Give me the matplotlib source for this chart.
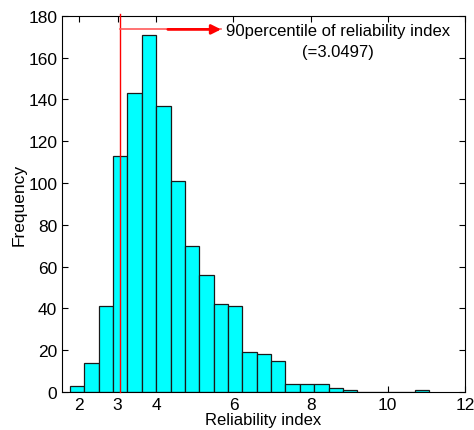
import numpy as np
import matplotlib
matplotlib.use('Agg')
from matplotlib import pyplot as plt

plt.rcParams['font.family'] = ['Liberation Sans', 'DejaVu Sans']

# histogram of the reliability index (25 bins between min and max)
bin_min = 1.766
bin_max = 11.07
n_bins = 25
counts = [3, 14, 41, 113, 143, 171, 137, 101, 70, 56, 42, 41, 19, 18, 15,
          4, 4, 4, 2, 1, 0, 0, 0, 0, 1]

p90 = 3.0497
arrow_y = 173.5
arrow_end = 5.68
note = '90percentile of reliability index\n(=3.0497)'

x_ticks = [2, 3, 4, 6, 8, 10, 12]
y_ticks = list(range(0, 181, 20))

edges = np.linspace(bin_min, bin_max, n_bins + 1)

fig = plt.figure(figsize=(4.74, 4.31), dpi=100)
ax = fig.add_axes([0.131, 0.088, 0.850, 0.873])

ax.bar(edges[:-1], counts, width=np.diff(edges), align='edge',
       color='#00ffff', edgecolor='#1a1a1a', linewidth=0.9, zorder=2)

# 90 percentile marker
ax.plot([p90, p90], [0, 181], color='red', linewidth=1, zorder=3, clip_on=False)
ax.plot([p90, arrow_end], [arrow_y, arrow_y], color='#ff5a5a', linewidth=1.2, zorder=3)
ax.annotate('', xy=(arrow_end, arrow_y), xytext=(4.3, arrow_y),
            arrowprops=dict(arrowstyle='-|>', color='red', lw=2,
                            mutation_scale=14, shrinkA=0, shrinkB=0), zorder=4)
ax.text(5.8, 176.5, note, ha='left', va='top', multialignment='center',
        fontsize=12, linespacing=1.45)

ax.set_xlim(1.56, 12)
ax.set_ylim(0, 180)
ax.set_xticks(x_ticks)
ax.set_yticks(y_ticks)
ax.tick_params(direction='in', top=True, right=True, length=4, labelsize=12.5)
ax.set_xlabel('Reliability index', fontsize=12, labelpad=0)
ax.set_ylabel('Frequency', fontsize=12.5, labelpad=1)
for s in ax.spines.values():
    s.set_linewidth(0.8)

fig.savefig('out.png', dpi=100)
